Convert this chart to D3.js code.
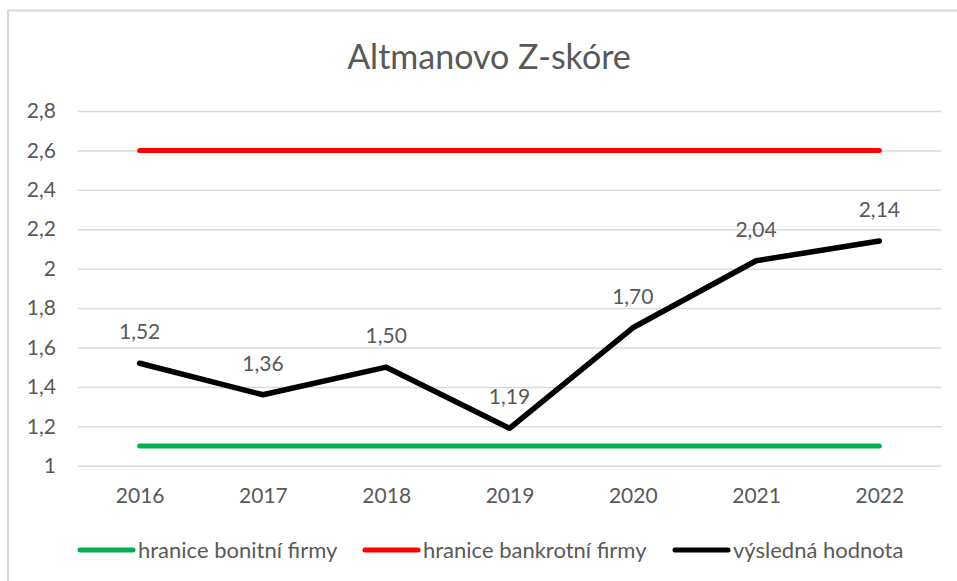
<!DOCTYPE html>
<html><head><meta charset="utf-8">
<script src="https://cdn.jsdelivr.net/npm/d3@7"></script>
<style>
body{margin:0;background:#fff;}
text{font-family:Lato,"Open Sans",sans-serif;fill:#595959;}
</style></head><body>
<svg id="c" width="957" height="581"></svg>
<script>
const years = ["2016","2017","2018","2019","2020","2021","2022"];
const vysledna = [1.52, 1.36, 1.50, 1.19, 1.70, 2.04, 2.14];
const bonitni = [1.1, 1.1, 1.1, 1.1, 1.1, 1.1, 1.1];
const bankrotni = [2.6, 2.6, 2.6, 2.6, 2.6, 2.6, 2.6];
const yTicks = [1, 1.2, 1.4, 1.6, 1.8, 2, 2.2, 2.4, 2.6, 2.8];
const seriesNames = ["hranice bonitní firmy", "hranice bankrotní firmy", "výsledná hodnota"];
const seriesColors = ["#00b050", "#ff0000", "#000000"];
const title = "Altmanovo Z-skóre";

const svg = d3.select("#c");
const fmt = v => d3.format(".1f")(v).replace(".", ",").replace(/,0$/, "");
const fmt2 = v => d3.format(".2f")(v).replace(".", ",");

svg.append("rect").attr("x", 8).attr("y", 10.5).attr("width", 960).attr("height", 600)
  .attr("fill", "none").attr("stroke", "#d9d9d9").attr("stroke-width", 2);

const x = d3.scalePoint().domain(years).range([78, 941]).padding(0.5);
const y = d3.scaleLinear().domain([1, 2.8]).range([465.7, 111]);

svg.append("text").attr("x", 489).attr("y", 69).attr("text-anchor", "middle")
  .style("font-size", "34px").text(title);

// grid
const yAxis = d3.axisLeft(y).tickValues(yTicks).tickSize(-(941 - 78)).tickPadding(22).tickFormat(fmt);
const gy = svg.append("g").attr("transform", "translate(78,0)").call(yAxis);
gy.select(".domain").remove();
gy.selectAll(".tick line").attr("stroke", "#d9d9d9").attr("stroke-width", 1.5);
gy.selectAll(".tick text").style("font-size", "21px").attr("fill", "#595959");

const xAxis = d3.axisBottom(x).tickSize(0).tickPadding(22);
const gx = svg.append("g").attr("transform", "translate(0,465.7)").call(xAxis);
gx.select(".domain").remove();
gx.selectAll(".tick text").style("font-size", "21px").attr("fill", "#595959");

const line = d3.line().x((d, i) => x(years[i])).y(d => y(d));
[bonitni, bankrotni, vysledna].forEach((s, k) => {
  svg.append("path").datum(s).attr("d", line).attr("fill", "none")
    .attr("stroke", seriesColors[k]).attr("stroke-width", k === 2 ? 5.5 : 5)
    .attr("stroke-linecap", "round").attr("stroke-linejoin", "round");
});

svg.append("g").selectAll("text").data(vysledna).join("text")
  .attr("x", (d, i) => x(years[i])).attr("y", d => y(d) - 24)
  .attr("text-anchor", "middle").style("font-size", "21px").text(fmt2);

// legend
const legX = [80, 365, 675];
const lg = svg.append("g");
seriesNames.forEach((n, k) => {
  lg.append("line").attr("x1", legX[k]).attr("x2", legX[k] + 53).attr("y1", 550).attr("y2", 550)
    .attr("stroke", seriesColors[k]).attr("stroke-width", 5).attr("stroke-linecap", "round");
  lg.append("text").attr("x", legX[k] + 58).attr("y", 550).attr("dy", "0.35em")
    .style("font-size", "22px").text(n);
});
</script></body></html>
